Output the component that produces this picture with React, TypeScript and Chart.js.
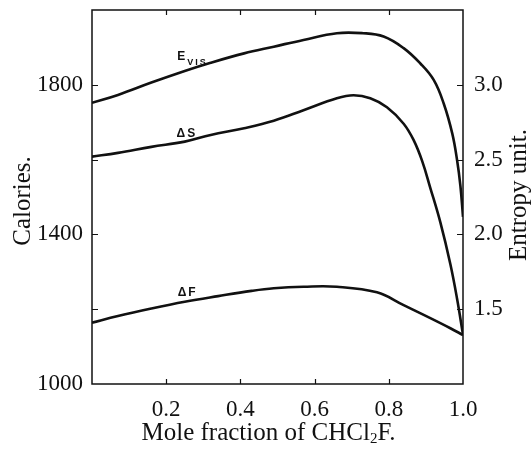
import React, { useEffect, useRef } from "react";
import { Chart, registerables } from "chart.js";

Chart.register(...registerables);

// E_vis (calories, left axis)
const evisX = [0, 0.07, 0.16, 0.25, 0.32, 0.41, 0.49, 0.57, 0.66, 0.73, 0.786, 0.84, 0.885, 0.921, 0.948, 0.971, 0.984, 0.993, 1.0];
const evisY = [1752, 1773, 1806, 1837, 1859, 1884, 1902, 1920, 1938, 1938, 1929, 1898, 1857, 1813, 1750, 1670, 1599, 1530, 1447];

// ΔS (entropy units, right axis)
const dsX = [0, 0.07, 0.16, 0.25, 0.32, 0.41, 0.49, 0.57, 0.66, 0.705, 0.75, 0.795, 0.84, 0.867, 0.89, 0.912, 0.939, 0.966, 0.984, 1.0];
const dsY = [2.52, 2.545, 2.585, 2.62, 2.665, 2.71, 2.76, 2.83, 2.91, 2.93, 2.91, 2.85, 2.74, 2.63, 2.49, 2.31, 2.08, 1.8, 1.57, 1.33];

// ΔF (calories, left axis)
const dfX = [0, 0.07, 0.16, 0.25, 0.34, 0.43, 0.49, 0.57, 0.66, 0.768, 0.84, 0.912, 0.966, 1.0];
const dfY = [1164, 1182, 1202, 1220, 1235, 1249, 1256, 1260, 1260, 1245, 1211, 1176, 1149, 1131];

// Tick labels and marks
const leftLabeled = [1000, 1400, 1800];
const rightLabeled = [1.5, 2.0, 2.5, 3.0];
const xLabeled = [0.2, 0.4, 0.6, 0.8, 1.0];
const leftMarks = [1200, 1400, 1600, 1800];
const rightMarks = [1.5, 2.0, 2.5, 3.0];
const xMarks = [0.2, 0.4, 0.6, 0.8];

// Curve labels (anchored in data coordinates: x, calories)
const curveNames = ["E", "ΔS", "ΔF"];
const curveSubs = ["VIS", "", ""];
const curveLabelX = [0.23, 0.228, 0.231];
const curveLabelY = [1866, 1660, 1235];

const xTitle = ["Mole fraction of CHCl", "2", "F."];
const leftTitle = "Calories.";
const rightTitle = "Entropy unit.";

const INK = "#111";
const SERIF = '"Liberation Serif", "Times New Roman", serif';
const SANS = '"Liberation Sans", Arial, sans-serif';

const near = (a: number[], v: number) => a.some((t) => Math.abs(t - v) < 1e-6);

const decor = {
  id: "decor",
  afterDatasetsDraw(chart: any) {
    const { ctx, chartArea: a, scales } = chart;
    const xs = scales.x, ys = scales.y, ys2 = scales.y2;
    ctx.save();
    ctx.strokeStyle = INK;
    ctx.lineWidth = 1.5;
    ctx.strokeRect(a.left, a.top, a.right - a.left, a.bottom - a.top);
    ctx.lineWidth = 1.2;
    ctx.beginPath();
    for (const v of xMarks) {
      const px = Math.round(xs.getPixelForValue(v)) + 0.5;
      ctx.moveTo(px, a.bottom);
      ctx.lineTo(px, a.bottom - 5);
      ctx.moveTo(px, a.top);
      ctx.lineTo(px, a.top + 5);
    }
    for (const v of leftMarks) {
      const py = Math.round(ys.getPixelForValue(v)) + 0.5;
      ctx.moveTo(a.left, py);
      ctx.lineTo(a.left + 6, py);
    }
    for (const v of rightMarks) {
      const py = Math.round(ys2.getPixelForValue(v)) + 0.5;
      ctx.moveTo(a.right, py);
      ctx.lineTo(a.right - 6, py);
    }
    ctx.stroke();

    // curve labels
    ctx.fillStyle = INK;
    ctx.textAlign = "left";
    ctx.textBaseline = "alphabetic";
    curveNames.forEach((name, i) => {
      const px = xs.getPixelForValue(curveLabelX[i]);
      const py = ys.getPixelForValue(curveLabelY[i]);
      ctx.font = `bold 12px ${SANS}`;
      ctx.letterSpacing = "2px";
      ctx.fillText(name, px, py);
      if (curveSubs[i]) {
        const w = ctx.measureText(name).width;
        ctx.font = `bold 9px ${SANS}`;
        ctx.letterSpacing = "2px";
        ctx.fillText(curveSubs[i], px + w, py + 5);
      }
    });
    ctx.letterSpacing = "0px";

    // axis titles
    const midY = (a.top + a.bottom) / 2;
    ctx.font = `25px ${SERIF}`;
    ctx.textAlign = "center";
    ctx.save();
    ctx.translate(a.left - 62, midY + 4);
    ctx.rotate(-Math.PI / 2);
    ctx.fillText(leftTitle, 0, 0);
    ctx.restore();
    ctx.save();
    ctx.translate(a.right + 63, midY - 2);
    ctx.rotate(-Math.PI / 2);
    ctx.fillText(rightTitle, 0, 0);
    ctx.restore();

    // x title with subscript
    ctx.textAlign = "left";
    const big = `25px ${SERIF}`;
    const small = `15px ${SERIF}`;
    ctx.font = big;
    const w0 = ctx.measureText(xTitle[0]).width;
    const w2 = ctx.measureText(xTitle[2]).width;
    ctx.font = small;
    const w1 = ctx.measureText(xTitle[1]).width;
    const total = w0 + w1 + w2;
    const cx = (a.left + a.right) / 2 - 9;
    let sx = cx - total / 2;
    const by = a.bottom + 56;
    ctx.font = big;
    ctx.fillText(xTitle[0], sx, by);
    sx += w0;
    ctx.font = small;
    ctx.fillText(xTitle[1], sx, by + 3);
    sx += w1;
    ctx.font = big;
    ctx.fillText(xTitle[2], sx, by);
    ctx.restore();
  },
};

export default function App() {
  const ref = useRef<HTMLCanvasElement | null>(null);
  useEffect(() => {
    document.body.style.margin = "0";
    const canvas = ref.current;
    if (!canvas) return;
    const line = (xv: number[], yv: number[], axis: string) => ({
      data: xv.map((x, i) => ({ x, y: yv[i] })),
      yAxisID: axis,
      borderColor: INK,
      borderWidth: 2.6,
      pointRadius: 0,
      fill: false,
      tension: 0.4,
    });
    const tickFont = { family: SERIF, size: 23 };
    const noPadV = (s: any) => {
      s.paddingTop = 0;
      s.paddingBottom = 0;
    };
    const chart = new Chart(canvas, {
      type: "line",
      data: {
        datasets: [
          { label: "E_vis", ...line(evisX, evisY, "y") },
          { label: "ΔS", ...line(dsX, dsY, "y2") },
          { label: "ΔF", ...line(dfX, dfY, "y") },
        ],
      },
      options: {
        animation: false,
        responsive: false,
        devicePixelRatio: 1,
        layout: { padding: { top: 10, left: 0, right: 0, bottom: 0 } },
        plugins: { legend: { display: false }, tooltip: { enabled: false } },
        scales: {
          x: {
            type: "linear",
            min: 0,
            max: 1,
            grid: { display: false, drawTicks: false },
            border: { display: false },
            ticks: {
              stepSize: 0.2,
              autoSkip: false,
              maxRotation: 0,
              padding: 12,
              color: INK,
              font: tickFont,
              callback: (v: any) => (near(xLabeled, Number(v)) ? Number(v).toFixed(1) : ""),
            },
            afterFit: (s: any) => {
              s.height = 66;
              s.paddingLeft = 0;
              s.paddingRight = 0;
            },
          },
          y: {
            type: "linear",
            position: "left",
            min: 1000,
            max: 2000,
            grid: { display: false, drawTicks: false },
            border: { display: false },
            ticks: {
              stepSize: 200,
              autoSkip: false,
              padding: 9,
              color: INK,
              font: tickFont,
              callback: (v: any) => (near(leftLabeled, Number(v)) ? String(v) : ""),
            },
            afterFit: (s: any) => {
              s.width = 92;
              noPadV(s);
            },
          },
          y2: {
            type: "linear",
            position: "right",
            min: 1.0,
            max: 3.5,
            grid: { display: false, drawTicks: false },
            border: { display: false },
            ticks: {
              stepSize: 0.5,
              autoSkip: false,
              padding: 11,
              color: INK,
              font: tickFont,
              callback: (v: any) => (near(rightLabeled, Number(v)) ? Number(v).toFixed(1) : ""),
            },
            afterFit: (s: any) => {
              s.width = 68;
              noPadV(s);
            },
          },
        },
      },
      plugins: [decor],
    });
    return () => chart.destroy();
  }, []);
  return (
    <div style={{ width: 531, height: 450, background: "#fff" }}>
      <canvas ref={ref} width={531} height={450} style={{ display: "block" }} />
    </div>
  );
}
